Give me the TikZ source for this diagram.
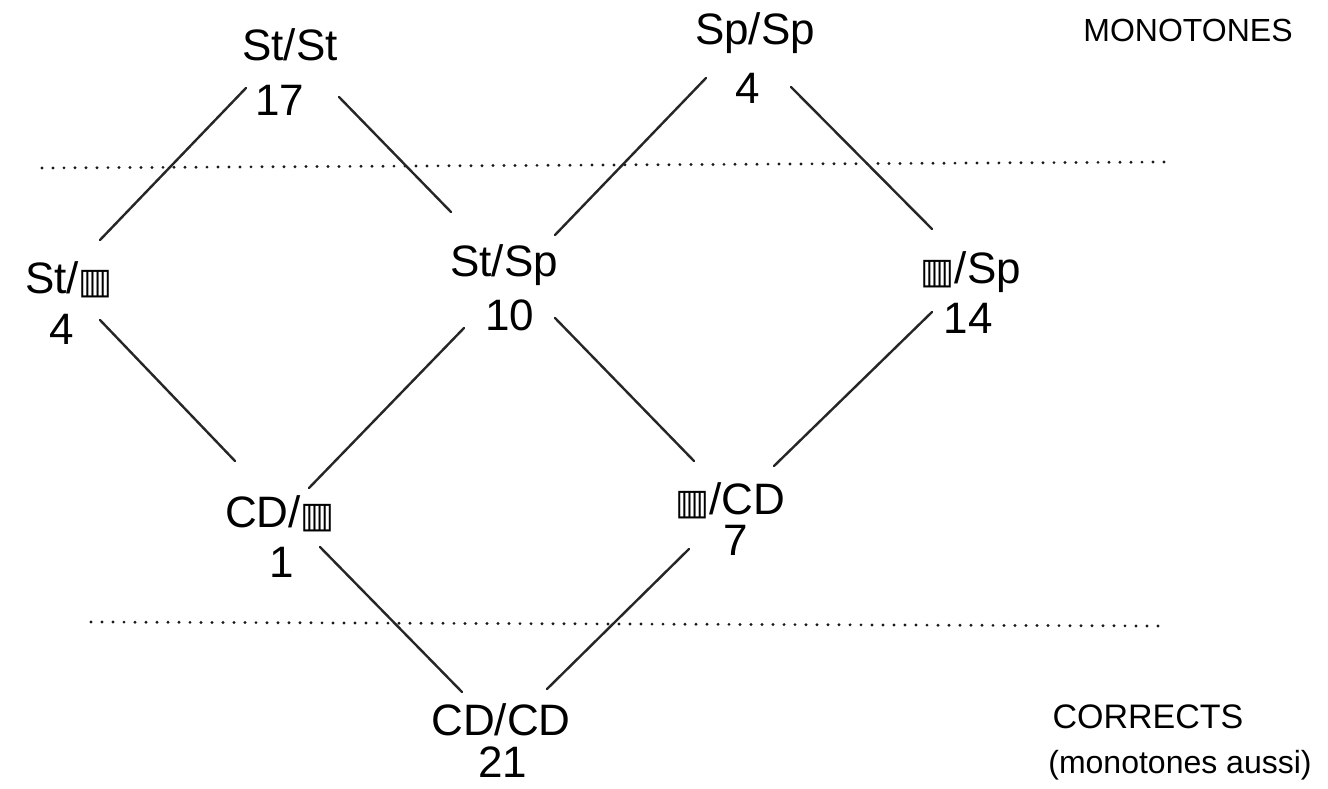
\documentclass[tikz,border=0pt]{standalone}
\usepackage{fontspec}
\setmainfont{Liberation Sans}
\newfontfamily\symf{DejaVu Sans}
\usetikzlibrary{calc}
\newcommand\hatchbox{{\symf\fontsize{36}{40}\selectfont ▥}}
\begin{document}
\begin{tikzpicture}[x=1pt,y=-1pt,
  lbl/.style={font=\fontsize{44}{48}\selectfont, inner sep=0pt, anchor=center},
  note/.style={font=\fontsize{32}{36}\selectfont, inner sep=0pt, anchor=center},
  edge/.style={line width=2.4pt, black!85, line cap=round},
  sep/.style={line width=3.2pt, black!90, dash pattern=on 0pt off 11pt, line cap=round}]
\useasboundingbox[fill=white] (0,0) rectangle (1328,789);

% vertex labels and counts
\node[lbl] (stst)   at (290,45)  {St/St};
\node[lbl] (stst n) at (280,100) {17};
\node[lbl] (spsp)   at (755,33)  {Sp/Sp};
\node[lbl] (spsp n) at (748,88)  {4};
\node[lbl] (stx)    at (69,280)  {St/\hatchbox};
\node[lbl] (stx n)  at (62,329)  {4};
\node[lbl] (stsp)   at (504,265) {St/Sp};
\node[lbl] (stsp n) at (510,315) {10};
\node[lbl] (xsp)    at (971,272) {\hatchbox/Sp};
\node[lbl] (xsp n)  at (968,318) {14};
\node[lbl] (cdx)    at (280,514) {CD/\hatchbox};
\node[lbl] (cdx n)  at (282,562) {1};
\node[lbl] (xcd)    at (730,501) {\hatchbox/CD};
\node[lbl] (xcd n)  at (736,540) {7};
\node[lbl] (cdcd)   at (501,720) {CD/CD};
\node[lbl] (cdcd n) at (503,762) {21};

% side notes
\node[note] (mono)  at (1188,30)  {MONOTONES};
\node[note,font=\fontsize{34}{38}\selectfont] (corr)  at (1148,717) {CORRECTS};
\node[note] (corr2) at (1180,765) {(monotones aussi)};

% separators
\coordinate (d1a) at (42,168);  \coordinate (d1b) at (1168,162);
\coordinate (d2a) at (91,622);  \coordinate (d2b) at (1160,626);
\draw[sep] (d1a) -- (d1b);
\draw[sep] (d2a) -- (d2b);

% connectors
\draw[edge] ($(stst n)+(-34,-12)$) -- ($(stx)+(31,-40)$);
\draw[edge] ($(stst n)+(59,-3)$)   -- ($(stsp)+(-53,-53)$);
\draw[edge] ($(spsp n)+(-42,-10)$) -- ($(stsp)+(51,-30)$);
\draw[edge] ($(spsp n)+(43,-1)$)   -- ($(xsp)+(-39,-43)$);
\draw[edge] ($(stx n)+(38,-9)$)    -- ($(cdx)+(-45,-53)$);
\draw[edge] ($(stsp n)+(-46,13)$)  -- ($(cdx)+(29,-26)$);
\draw[edge] ($(stsp n)+(45,3)$)    -- ($(xcd)+(-36,-40)$);
\draw[edge] ($(xsp n)+(-36,-6)$)   -- ($(xcd)+(44,-35)$);
\draw[edge] ($(cdx n)+(38,-15)$)   -- ($(cdcd)+(-39,-28)$);
\draw[edge] ($(xcd n)+(-47,9)$)    -- ($(cdcd)+(46,-31)$);
\end{tikzpicture}
\end{document}
